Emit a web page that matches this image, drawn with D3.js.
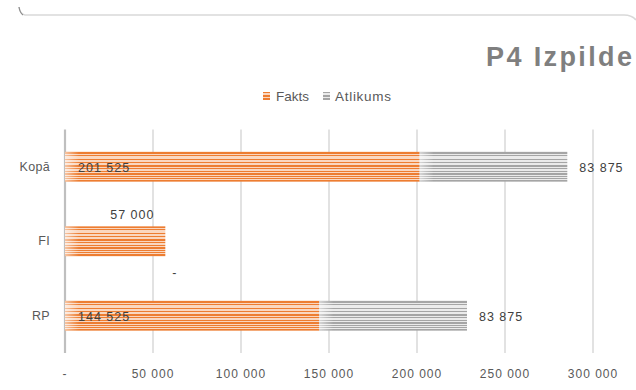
<!DOCTYPE html>
<html>
<head>
<meta charset="utf-8">
<script src="https://cdn.jsdelivr.net/npm/d3@7"></script>
<style>
  html, body { margin: 0; padding: 0; background: #ffffff; }
  svg { display: block; font-family: "Liberation Sans", Arial, sans-serif; }
</style>
</head>
<body>
<svg id="chart" width="636" height="390"></svg>
<script>
// Budget execution: actual (Fakts) and remainder (Atlikums) per funding source
const categories = ["Kopā", "FI", "RP"];
const fakts = [201525, 57000, 144525];
const atlikums = [83875, 0, 83875];
const seriesNames = ["Fakts", "Atlikums"];
const xTicks = [0, 50000, 100000, 150000, 200000, 250000, 300000];
const xTickLabels = ["-", "50 000", "100 000", "150 000", "200 000", "250 000", "300 000"];

const W = 636, H = 390;
const svg = d3.select("#chart");
const defs = svg.append("defs");

const fmt = v => v === 0 ? "-" : d3.format(",")(v).replace(/,/g, " ");

const x = d3.scaleLinear().domain([0, 300000]).range([65, 593]);
const y = d3.scaleBand().domain(categories).range([129.5, 353]).paddingInner(0.6).paddingOuter(0.3);

// Horizontal stripe fill (rows of a 30-unit bar; 1 = light stripe)
const stripeRows = [0,0,1,0,1,1,1,0,1,1,0,1,1,0,0,1,0,1,1,0,1,0,0,1,0,1,0,1,0,0];
function stripeGradient(id, dark, light) {
  const g = defs.append("linearGradient").attr("id", id)
    .attr("x1", 0).attr("y1", 0).attr("x2", 0).attr("y2", 1);
  const n = stripeRows.length;
  stripeRows.forEach((r, i) => {
    const c = r ? light : dark;
    g.append("stop").attr("offset", i / n).attr("stop-color", c);
    g.append("stop").attr("offset", (i + 1) / n).attr("stop-color", c);
  });
}
stripeGradient("stripeOrange", "#ED7D31", "#FAD7C0");
stripeGradient("stripeGray", "#A5A5A5", "#EBEBEB");

const glow = defs.append("linearGradient").attr("id", "glow")
  .attr("x1", 0).attr("y1", 0).attr("x2", 1).attr("y2", 0);
glow.append("stop").attr("offset", 0).attr("stop-color", "#fff").attr("stop-opacity", 0.55);
glow.append("stop").attr("offset", 1).attr("stop-color", "#fff").attr("stop-opacity", 0);

const fills = ["url(#stripeOrange)", "url(#stripeGray)"];

// Frame edge at the top
svg.append("path")
  .attr("d", "M19,7 Q20,14 25,15 L624,15 Q632,15 636,20")
  .attr("fill", "none").attr("stroke", "#d9d9d9").attr("stroke-width", 1.5);
svg.append("path")
  .attr("d", "M19,7 Q20,13 23,15")
  .attr("fill", "none").attr("stroke", "#8c8c8c").attr("stroke-width", 1.2);

// Title
svg.append("text")
  .attr("x", 486).attr("y", 66)
  .attr("textLength", 146).attr("lengthAdjust", "spacing")
  .attr("font-size", 27).attr("font-weight", "bold")
  .attr("fill", "#7f7f7f")
  .text("P4 Izpilde");

// Legend
const legend = svg.append("g");
const legendItems = [
  { name: seriesNames[0], fill: fills[0], sx: 263, tx: 276, tl: 33 },
  { name: seriesNames[1], fill: fills[1], sx: 323, tx: 335, tl: 56 }
];
legendItems.forEach(d => {
  legend.append("rect").attr("x", d.sx).attr("y", 92).attr("width", 7).attr("height", 8).attr("fill", d.fill);
  legend.append("text").attr("x", d.tx).attr("y", 101)
    .attr("textLength", d.tl).attr("lengthAdjust", "spacing")
    .attr("font-size", 13.5).attr("fill", "#595959").text(d.name);
});

// Vertical gridlines
const [gy0, gy1] = y.range();
svg.append("g").selectAll("line").data(xTicks).join("line")
  .attr("x1", d => x(d)).attr("x2", d => x(d))
  .attr("y1", gy0).attr("y2", gy1)
  .attr("stroke", d => d === 0 ? "#bfbfbf" : "#d9d9d9")
  .attr("stroke-width", d => d === 0 ? 2.2 : 1.5);

// X axis tick labels
svg.append("g").selectAll("text").data(xTicks).join("text")
  .attr("x", d => x(d)).attr("y", 378)
  .attr("text-anchor", "middle")
  .attr("font-size", 12).attr("letter-spacing", 1)
  .attr("fill", "#595959")
  .text((d, i) => xTickLabels[i]);

// Category labels
svg.append("g").selectAll("text").data(categories).join("text")
  .attr("x", 50).attr("y", d => y(d) + y.bandwidth() / 2 + 4)
  .attr("text-anchor", "end")
  .attr("font-size", 12.5).attr("letter-spacing", 0.3)
  .attr("fill", "#595959")
  .text(d => d);

// Stacked bars
const rows = categories.map((c, i) => ({ c, f: fakts[i], a: atlikums[i] }));
const bars = svg.append("g");
rows.forEach(r => {
  const segs = [
    { x0: 0, x1: r.f, fill: fills[0] },
    { x0: r.f, x1: r.f + r.a, fill: fills[1] }
  ].filter(s => s.x1 > s.x0);
  segs.forEach(s => {
    bars.append("rect")
      .attr("x", x(s.x0)).attr("y", y(r.c))
      .attr("width", x(s.x1) - x(s.x0)).attr("height", y.bandwidth())
      .attr("fill", s.fill);
    bars.append("rect")
      .attr("x", x(s.x0)).attr("y", y(r.c))
      .attr("width", Math.min(14, x(s.x1) - x(s.x0))).attr("height", y.bandwidth())
      .attr("fill", "url(#glow)");
  });
});

// Data labels
const lab = svg.append("g").attr("font-size", 12.5).attr("letter-spacing", 1).attr("fill", "#404040");
rows.forEach(r => {
  const cy = y(r.c) + y.bandwidth() / 2 + 5;
  if (r.a > 0) {
    // actual value inside the bar base, remainder after the bar end
    lab.append("text").attr("x", x(0) + 13).attr("y", cy).text(fmt(r.f));
    lab.append("text").attr("x", x(r.f + r.a) + 12).attr("y", cy).text(fmt(r.a));
  } else {
    lab.append("text").attr("x", x(r.f) - 33).attr("y", y(r.c) - 7)
      .attr("text-anchor", "middle").text(fmt(r.f));
    lab.append("text").attr("x", x(r.f + r.a) + 7).attr("y", y(r.c) + y.bandwidth() + 21)
      .text(fmt(r.a));
  }
});
</script>
</body>
</html>
